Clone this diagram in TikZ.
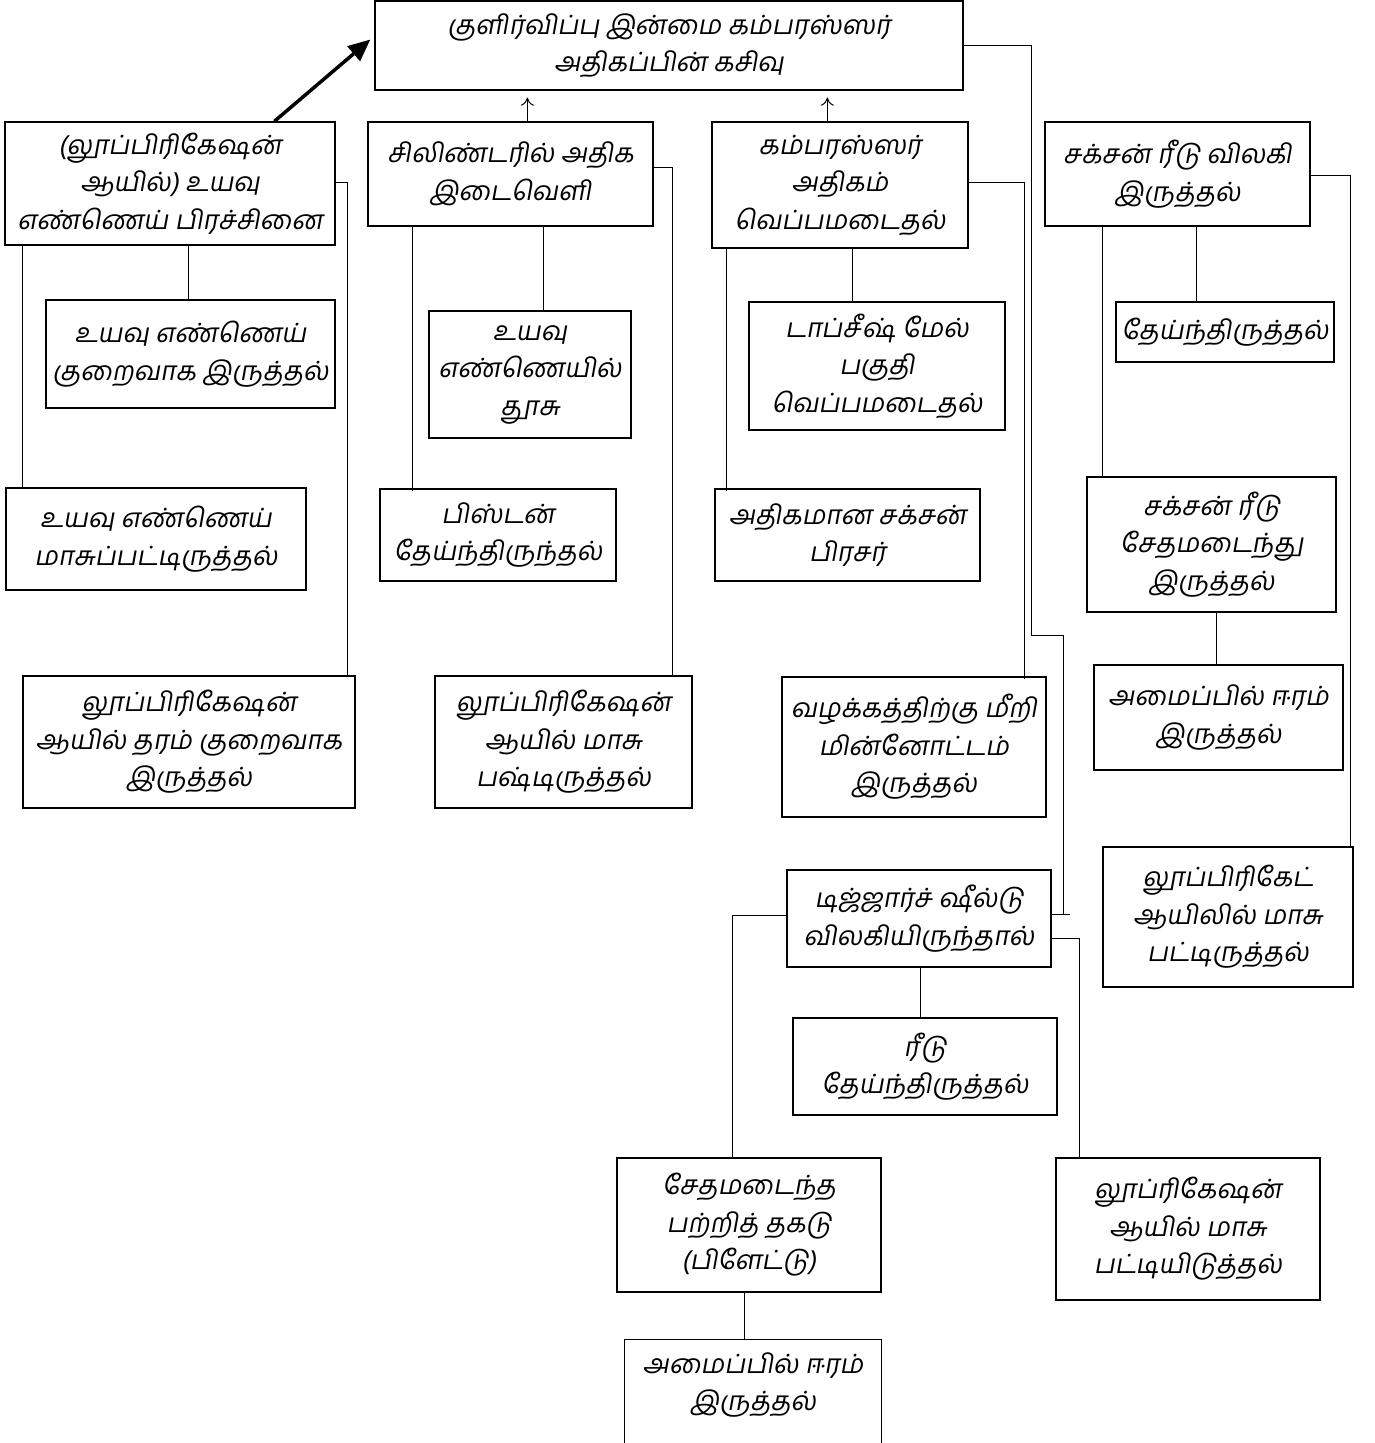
\documentclass[tikz,border=0pt]{standalone}
\usepackage{fontspec}
\newfontfamily\tamilfont[Script=Tamil,FakeSlant=0.18]{Hind Madurai}
\usetikzlibrary{calc,arrows.meta}

% A box given by its corners: name, x1, y1, x2, y2, text
\newcommand\flowbox[6]{%
  \node[box, minimum width={(#4-#2)*1pt}, minimum height={(#5-#3)*1pt}]
    (#1) at ({(#2+#4)/2},{(#3+#5)/2}) {#6};}

\begin{document}
\begin{tikzpicture}[x=1pt,y=-1pt,
  box/.style={draw, line width=1.3pt, align=center, inner sep=0pt,
    font=\tamilfont\fontsize{26.5}{37.5}\selectfont},
  link/.style={line width=1pt},
  uparrow/.style={link,-{To[length=8pt,width=13pt]}},
  bigarrow/.style={line width=3.5pt,-{Triangle[length=22pt,width=19pt]}}]

\fill[white] (0,0) rectangle (1375,1443);
\clip (0,0) rectangle (1375,1443);

% main fault
\flowbox{top}{375}{1}{963}{90}{குளிர்விப்பு இன்மை கம்பரஸ்ஸர்\\அதிகப்பின் கசிவு}

% first level causes
\flowbox{A}{5}{122}{335}{245}{(லூப்பிரிகேஷன்\\ஆயில்) உயவு\\எண்ணெய் பிரச்சினை}
\flowbox{B}{368}{122}{653}{226}{சிலிண்டரில் அதிக\\இடைவெளி}
\flowbox{C}{712}{122}{968}{248}{கம்பரஸ்ஸர்\\அதிகம்\\வெப்பமடைதல்}
\flowbox{D}{1045}{122}{1310}{226}{சக்சன் ரீடு விலகி\\இருத்தல்}

% lubrication branch
\flowbox{A1}{46}{300}{335}{408}{உயவு எண்ணெய்\\குறைவாக இருத்தல்}
\flowbox{A2}{6}{488}{306}{590}{உயவு எண்ணெய்\\மாசுப்பட்டிருத்தல்}
\flowbox{A3}{23}{676}{355}{808}{லூப்பிரிகேஷன்\\ஆயில் தரம் குறைவாக\\இருத்தல்}

% cylinder clearance branch
\flowbox{B1}{429}{311}{631}{438}{உயவு\\எண்ணெயில்\\தூசு}
\flowbox{B2}{380}{489}{616}{581}{பிஸ்டன்\\தேய்ந்திருந்தல்}
\flowbox{B3}{435}{676}{692}{808}{லூப்பிரிகேஷன்\\ஆயில் மாசு\\பஷ்டிருத்தல்}

% overheating branch
\flowbox{C1}{749}{302}{1005}{430}{டாப்சீஷ் மேல்\\பகுதி\\வெப்பமடைதல்}
\flowbox{C2}{715}{489}{980}{581}{அதிகமான சக்சன்\\பிரசர்}
\flowbox{C3}{782}{677}{1046}{817}{வழக்கத்திற்கு மீறி\\மின்னோட்டம்\\இருத்தல்}

% suction reed branch
\flowbox{D1}{1116}{302}{1334}{362}{தேய்ந்திருத்தல்}
\flowbox{D2}{1087}{477}{1336}{612}{சக்சன் ரீடு\\சேதமடைந்து\\இருத்தல்}
\flowbox{D3}{1094}{665}{1343}{770}{அமைப்பில் ஈரம்\\இருத்தல்}
\flowbox{D4}{1103}{847}{1353}{987}{லூப்பிரிகேட்\\ஆயிலில் மாசு\\பட்டிருத்தல்}

% discharge shield branch
\flowbox{E}{787}{870}{1051}{967}{டிஜ்ஜார்ச் ஷீல்டு\\விலகியிருந்தால்}
\flowbox{E1}{793}{1018}{1057}{1115}{ரீடு\\தேய்ந்திருத்தல்}
\flowbox{E2}{617}{1158}{881}{1292}{சேதமடைந்த\\பற்றித் தகடு\\(பிளேட்டு)}
\flowbox{E3}{1056}{1158}{1320}{1300}{லூப்ரிகேஷன்\\ஆயில் மாசு\\பட்டியிடுத்தல்}
\node[box, draw=none, minimum width=256pt, minimum height=90pt]
  (E4) at (753,1385) {அமைப்பில் ஈரம்\\இருத்தல்};
\draw[line width=1.3pt] ($(E4.north west)+(0,120)$) -- (E4.north west)
  -- (E4.north east) -- ($(E4.north east)+(0,120)$);

% arrows into the main fault
\draw[bigarrow] ($(A.north west)+(270,0)$) -- ($(top.west)+(-4,-6)$);
\draw[uparrow] ($(B.north west)+(160,0)$) coordinate (b0) -- ($(b0 |- top.south)+(0,7)$);
\draw[uparrow] ($(C.north west)+(116,0)$) coordinate (c0) -- ($(c0 |- top.south)+(0,7)$);

% lubrication branch links
\draw[link] ($(A.south west)+(184,0)$) coordinate (a1) -- (a1 |- A1.north);
\draw[link] ($(A.south west)+(18,0)$) coordinate (a2) -- (a2 |- A2.north);
\draw[link] ($(A.east)+(0,-1.5)$) -| ($(A3.north west)+(325,0)$);

% cylinder clearance links
\draw[link] ($(B.south west)+(176,0)$) coordinate (b1) -- (b1 |- B1.north);
\draw[link] ($(B.south west)+(45,0)$) coordinate (b2) -- ($(b2 |- B2.north)+(0,3)$);
\draw[link] ($(B.east)+(0,-7)$) -| ($(B3.north west)+(238,0)$);

% overheating links
\draw[link] ($(C.south west)+(141,0)$) coordinate (c1) -- (c1 |- C1.north);
\draw[link] ($(C.south west)+(15,0)$) coordinate (c2) -- ($(c2 |- C2.north)+(0,3)$);
\draw[link] ($(C.east)+(0,-3)$) -| ($(C3.north west)+(243,3)$);

% suction reed links
\draw[link] ($(D.south west)+(152,0)$) coordinate (d1) -- (d1 |- D1.north);
\draw[link] ($(D.south west)+(58,0)$) coordinate (d2) -- (d2 |- D2.north);
\draw[link] ($(D.east)+(0,1)$) -| ($(D4.north west)+(248,0)$);
\draw[link] ($(D2.south west)+(130,0)$) coordinate (d3) -- (d3 |- D3.north);

% main fault to discharge shield
\coordinate (j1) at (1031,635);
\draw[link] ($(top.east)+(0,-0.5)$) -| (j1) -| ($(E.east)+(12,-4.5)$);
\draw[link] ($(E.east)+(-1,-4.5)$) -- ++(19,0);

% discharge shield links
\draw[link] ($(E.south west)+(134,0)$) coordinate (e1) -- (e1 |- E1.north);
\draw[link] ($(E.west)+(0,-3.5)$) -| ($(E2.north west)+(116,0)$);
\draw[link] ($(E.east)+(0,19.5)$) -| ($(E3.north west)+(24,0)$);
\draw[link] ($(E2.south west)+(128,0)$) coordinate (e4) -- (e4 |- E4.north);

\end{tikzpicture}
\end{document}
